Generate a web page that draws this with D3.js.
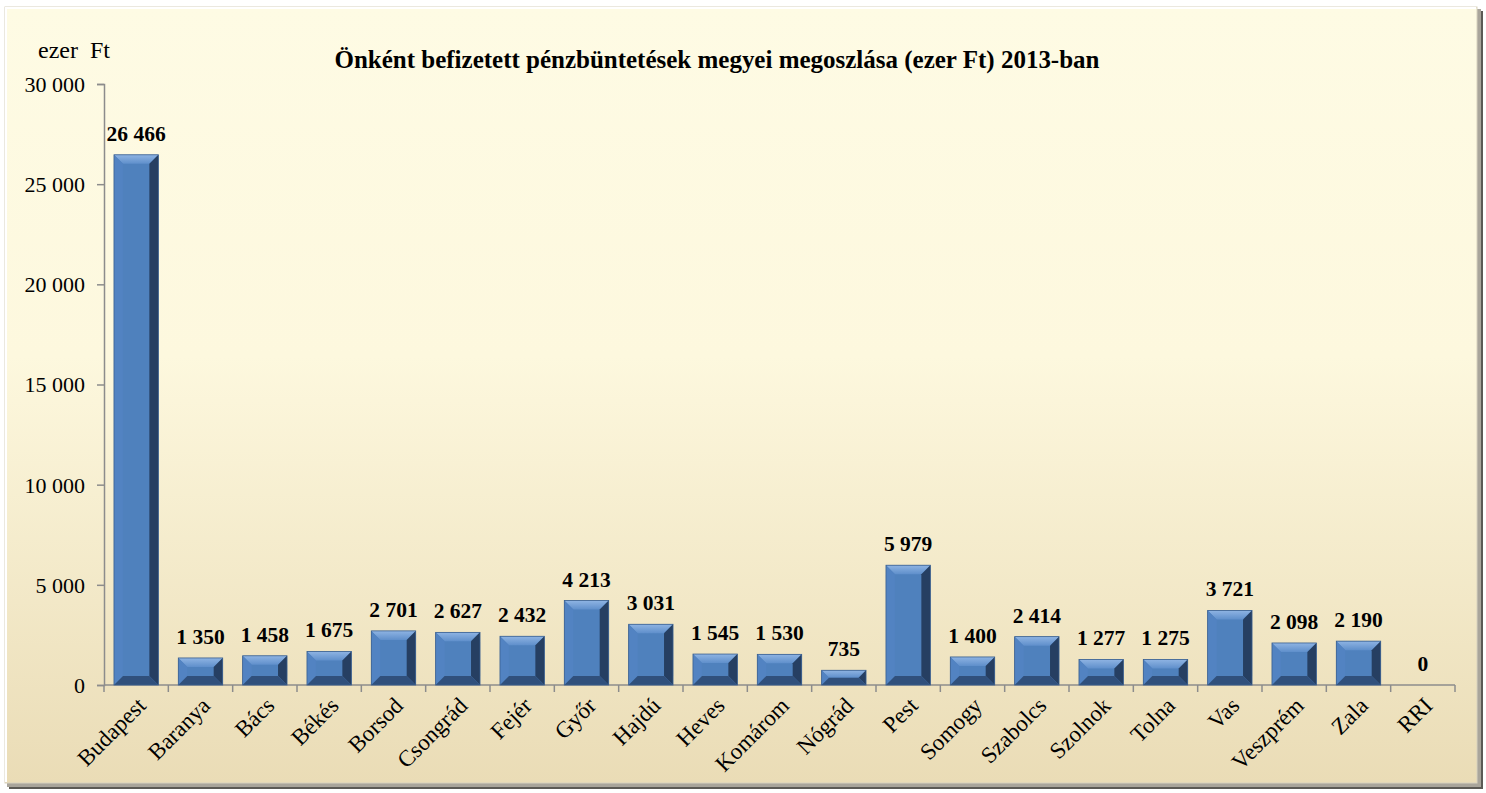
<!DOCTYPE html>
<html>
<head>
<meta charset="utf-8">
<script src="https://cdn.jsdelivr.net/npm/d3@7"></script>
<style>
  body { margin: 0; background: #ffffff; }
  svg { display: block; font-family: "Liberation Serif", "Times New Roman", serif; }
</style>
</head>
<body>
<script>
// categories (counties) and values, ezer Ft
var counties = ["Budapest", "Baranya", "Bács", "Békés", "Borsod", "Csongrád", "Fejér", "Győr", "Hajdú",
    "Heves", "Komárom", "Nógrád", "Pest", "Somogy", "Szabolcs", "Szolnok", "Tolna", "Vas", "Veszprém", "Zala", "RRI"];
var amounts = [26466, 1350, 1458, 1675, 2701, 2627, 2432, 4213, 3031,
    1545, 1530, 735, 5979, 1400, 2414, 1277, 1275, 3721, 2098, 2190, 0];
var yTicks = [0, 5000, 10000, 15000, 20000, 25000, 30000];

var title = "Önként befizetett pénzbüntetések megyei megoszlása (ezer Ft) 2013-ban";
var unitLabel = "ezer  Ft";

var width = 1486, height = 793;
var margin = {top: 84, right: 31, bottom: 108, left: 104};
var serif = "Liberation Serif, Times New Roman, serif";

// hungarian style thousands: "26 466"
var fmt = function(v) { return d3.format(",")(v).replace(/,/g, " "); };

const svg = d3.select("body")
    .append("svg")
    .attr("width", width)
    .attr("height", height);

const defs = svg.append("defs");

// frame background gradient
const bg = defs.append("linearGradient")
    .attr("id", "bgGrad")
    .attr("x1", 0).attr("y1", 0).attr("x2", 0).attr("y2", 1);
bg.append("stop").attr("offset", "0%").attr("stop-color", "#fefbe4");
bg.append("stop").attr("offset", "45%").attr("stop-color", "#fdf8de");
bg.append("stop").attr("offset", "100%").attr("stop-color", "#eadcb6");

// top facet gradient of the bars
const topGrad = defs.append("linearGradient")
    .attr("id", "topGrad")
    .attr("x1", 0).attr("y1", 0).attr("x2", 0).attr("y2", 1);
topGrad.append("stop").attr("offset", "0%").attr("stop-color", "#8fb4e3");
topGrad.append("stop").attr("offset", "100%").attr("stop-color", "#5f8fcb");

// shadow behind the frame
svg.append("rect")
    .attr("x", 9).attr("y", 11)
    .attr("width", 1474).attr("height", 778)
    .attr("fill", "#5c5a55");
svg.append("rect")
    .attr("x", 7).attr("y", 9)
    .attr("width", 1474).attr("height", 778)
    .attr("fill", "#a9a59b");

// frame
svg.append("rect")
    .attr("x", 5).attr("y", 7)
    .attr("width", 1472).attr("height", 776)
    .attr("fill", "url(#bgGrad)")
    .attr("stroke", "#d8d2bf")
    .attr("stroke-width", 1);

// light bevel on top/left of frame
svg.append("path")
    .attr("d", "M6,782 L6,8 L1476,8")
    .attr("fill", "none")
    .attr("stroke", "#ffffff")
    .attr("stroke-width", 2);

// scales
const x = d3.scaleBand()
    .domain(counties)
    .range([margin.left, width - margin.right])
    .paddingInner(0.31)
    .paddingOuter(0.155);

const y = d3.scaleLinear()
    .domain([0, 30000])
    .range([height - margin.bottom, margin.top]);

// category ticks sit between bands
const step = x.step();
const xAxisLine = svg.append("g");
xAxisLine.append("line")
    .attr("x1", margin.left).attr("x2", width - margin.right)
    .attr("y1", y(0)).attr("y2", y(0))
    .attr("stroke", "#8c8c8c").attr("stroke-width", 1.5);
xAxisLine.selectAll(".xt")
    .data(d3.range(counties.length + 1))
    .join("line")
    .attr("x1", i => margin.left + i * step)
    .attr("x2", i => margin.left + i * step)
    .attr("y1", y(0)).attr("y2", y(0) + 7)
    .attr("stroke", "#8c8c8c").attr("stroke-width", 1.5);

// y axis
const yAxis = svg.append("g")
    .attr("transform", `translate(${margin.left},0)`)
    .call(d3.axisLeft(y).tickValues(yTicks).tickFormat(fmt).tickSize(7).tickPadding(12));
yAxis.select(".domain").attr("stroke", "#8c8c8c").attr("stroke-width", 1.5);
yAxis.selectAll(".tick line").attr("stroke", "#8c8c8c").attr("stroke-width", 1.5);
yAxis.selectAll(".tick text")
    .attr("font-family", serif)
    .attr("font-size", 22)
    .attr("dy", "0.34em")
    .attr("fill", "#000");

// bevelled bars
const bars = svg.append("g").selectAll("g")
    .data(counties.map((c, i) => ({name: c, value: amounts[i]})))
    .join("g");

function facet(d, which) {
    const x0 = x(d.name), x1 = x0 + x.bandwidth();
    const y0 = y(d.value), y1 = y(0);
    const b = Math.min(9, (y1 - y0) / 2, x.bandwidth() / 2);
    if (which === "top") return `M${x0},${y0} L${x1},${y0} L${x1 - b},${y0 + b} L${x0 + b},${y0 + b} Z`;
    if (which === "left") return `M${x0},${y0} L${x0 + b},${y0 + b} L${x0 + b},${y1 - b} L${x0},${y1} Z`;
    if (which === "right") return `M${x1},${y0} L${x1},${y1} L${x1 - b},${y1 - b} L${x1 - b},${y0 + b} Z`;
    return `M${x0},${y1} L${x0 + b},${y1 - b} L${x1 - b},${y1 - b} L${x1},${y1} Z`;
}

const filtered = bars.filter(d => d.value > 0);
filtered.append("rect")
    .attr("x", d => x(d.name))
    .attr("y", d => y(d.value))
    .attr("width", x.bandwidth())
    .attr("height", d => y(0) - y(d.value))
    .attr("fill", "#4f81bd");
filtered.append("path").attr("d", d => facet(d, "top")).attr("fill", "url(#topGrad)");
filtered.append("path").attr("d", d => facet(d, "left")).attr("fill", "#5283c2");
filtered.append("path").attr("d", d => facet(d, "right")).attr("fill", "#263f62");
filtered.append("path").attr("d", d => facet(d, "bottom")).attr("fill", "#30507c");
filtered.append("rect")
    .attr("x", d => x(d.name))
    .attr("y", d => y(d.value))
    .attr("width", x.bandwidth())
    .attr("height", d => y(0) - y(d.value))
    .attr("fill", "none")
    .attr("stroke", "#3a5f8f")
    .attr("stroke-width", 0.8);

// value labels
bars.append("text")
    .attr("x", d => x(d.name) + x.bandwidth() / 2)
    .attr("y", d => y(d.value) - 14)
    .attr("text-anchor", "middle")
    .attr("font-size", 21.5)
    .attr("font-weight", "bold")
    .attr("fill", "#000")
    .text(d => fmt(d.value));

// category labels, rotated
svg.append("g").selectAll("text")
    .data(counties)
    .join("text")
    .attr("transform", d => `translate(${x(d) + x.bandwidth() / 2 + 11},${y(0) + 22}) rotate(-45)`)
    .attr("text-anchor", "end")
    .attr("font-size", 23)
    .attr("fill", "#000")
    .text(d => d);

// title
svg.append("text")
    .attr("x", 717)
    .attr("y", 68)
    .attr("text-anchor", "middle")
    .attr("font-size", 25)
    .attr("font-weight", "bold")
    .attr("textLength", 765)
    .attr("lengthAdjust", "spacingAndGlyphs")
    .attr("fill", "#000")
    .text(title);

// unit label
svg.append("text")
    .attr("x", 38)
    .attr("y", 58)
    .attr("font-size", 24)
    .attr("fill", "#000")
    .style("white-space", "pre")
    .text(unitLabel);
</script>
</body>
</html>
